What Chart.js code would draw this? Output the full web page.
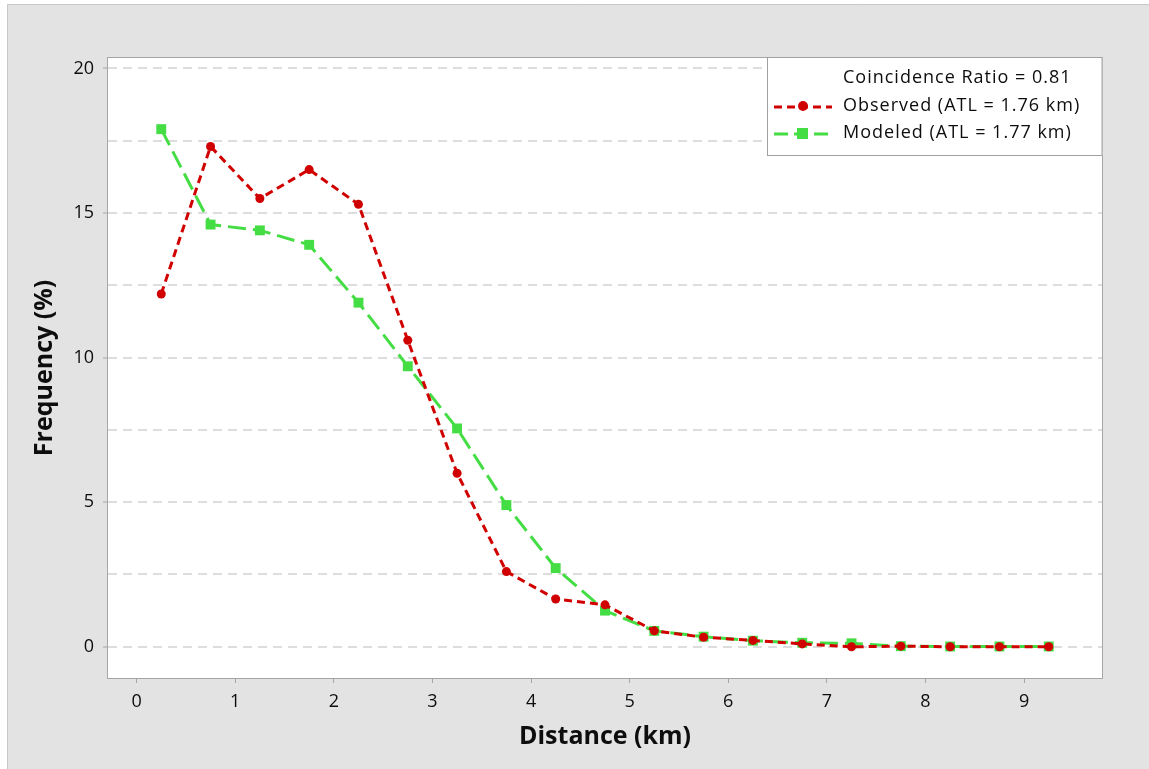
<!DOCTYPE html>
<html>
<head>
<meta charset="utf-8">
<script src="https://cdn.jsdelivr.net/npm/chart.js@4.4.1/dist/chart.umd.min.js"></script>
<style>
  html, body { margin: 0; padding: 0; background: #fff; overflow: hidden; }
  #wrap { position: relative; width: 1149px; height: 769px; }
  canvas { display: block; }
</style>
</head>
<body>
<div id="wrap"><canvas id="chartDist" width="1149" height="769"></canvas></div>
<script>
// Khoảng cách (km) – tâm của các lớp 0.5 km
const distances = [0.25, 0.75, 1.25, 1.75, 2.25, 2.75, 3.25, 3.75, 4.25, 4.75, 5.25, 5.75, 6.25, 6.75, 7.25, 7.75, 8.25, 8.75, 9.25];
const observed = [12.2, 17.3, 15.5, 16.5, 15.3, 10.6, 6.0, 2.6, 1.65, 1.45, 0.55, 0.33, 0.22, 0.1, 0.0, 0.02, 0.0, 0.0, 0.0];
const modeled = [17.9, 14.6, 14.4, 13.9, 11.9, 9.7, 7.55, 4.9, 2.72, 1.25, 0.55, 0.35, 0.21, 0.14, 0.12, 0.02, 0.01, 0.01, 0.01];
const xTicks = [0, 1, 2, 3, 4, 5, 6, 7, 8, 9];
const yTicks = [0, 2.5, 5, 7.5, 10, 12.5, 15, 17.5, 20];
const legendHeader = 'Coincidence Ratio = 0.81';
const seriesLabels = ['Observed (ATL = 1.76 km)', 'Modeled (ATL = 1.77 km)'];

const FONT = "'Open Sans', 'Noto Sans', sans-serif";
const RED = '#d00000';
const GREEN = '#44dd44';
const FRAME = '#e3e3e3';
const AXIS_LINE = '#a6a6a6';
const TEXT = '#0d0d0d';

// Nền xám + vùng vẽ trắng + khung
const framePlugin = {
    id: 'frame',
    beforeDraw(chart) {
        const { ctx, chartArea: a } = chart;
        ctx.save();
        ctx.fillStyle = '#ffffff';
        ctx.fillRect(0, 0, chart.width, chart.height);
        ctx.fillStyle = FRAME;
        ctx.fillRect(7, 4, chart.width - 7, chart.height - 4);
        ctx.strokeStyle = '#c8c8c8';
        ctx.lineWidth = 1;
        ctx.beginPath();
        ctx.moveTo(7.5, chart.height);
        ctx.lineTo(7.5, 4.5);
        ctx.lineTo(chart.width, 4.5);
        ctx.stroke();
        ctx.fillStyle = '#ffffff';
        ctx.fillRect(a.left, a.top, a.right - a.left, a.bottom - a.top);
        ctx.restore();
    },
    afterDraw(chart) {
        const { ctx, chartArea: a } = chart;
        ctx.save();
        ctx.strokeStyle = AXIS_LINE;
        ctx.lineWidth = 1;
        ctx.strokeRect(a.left - 0.5, a.top - 0.5, a.right - a.left + 1, a.bottom - a.top + 1);

        // Chú giải
        const bx = 767, by = a.top - 0.5, bw = a.right - bx + 0.5, bh = 98;
        ctx.fillStyle = '#ffffff';
        ctx.fillRect(bx, by, bw, bh);
        ctx.strokeStyle = '#a0a0a0';
        ctx.strokeRect(bx + 0.5, by, bw - 1, bh);
        ctx.fillStyle = TEXT;
        ctx.font = '500 18px ' + FONT;
        ctx.letterSpacing = '1px';
        ctx.textBaseline = 'middle';
        const tx = 843;
        ctx.fillText(legendHeader, tx, 78);
        const rows = [106, 133];
        chart.data.datasets.forEach((ds, i) => {
            const y = rows[i];
            ctx.save();
            ctx.strokeStyle = ds.borderColor;
            ctx.lineWidth = ds.borderWidth;
            ctx.setLineDash(i === 0 ? [8, 5] : [14, 6]);
            ctx.beginPath();
            ctx.moveTo(774, y + 1);
            ctx.lineTo(832, y + 1);
            ctx.stroke();
            ctx.setLineDash([]);
            ctx.fillStyle = ds.borderColor;
            if (i === 0) {
                ctx.beginPath();
                ctx.arc(803, y, 5, 0, Math.PI * 2);
                ctx.fill();
            } else {
                ctx.fillRect(797, y - 5, 11, 11);
            }
            ctx.restore();
            ctx.fillStyle = TEXT;
            ctx.fillText(ds.label, tx, y);
        });
        ctx.restore();
    }
};

const ctx = document.getElementById('chartDist');
new Chart(ctx, {
    type: 'line',
    data: {
        datasets: [
            {
                label: seriesLabels[0],
                data: distances.map((x, i) => ({ x, y: observed[i] })),
                borderColor: RED,
                backgroundColor: RED,
                borderWidth: 3,
                borderDash: [8, 5],
                pointStyle: 'circle',
                pointRadius: 4.5,
                pointBorderWidth: 0,
                tension: 0,
            },
            {
                label: seriesLabels[1],
                data: distances.map((x, i) => ({ x, y: modeled[i] })),
                borderColor: GREEN,
                backgroundColor: GREEN,
                borderWidth: 3,
                borderDash: [18, 7],
                pointStyle: 'rect',
                pointRadius: 7,
                pointBorderWidth: 0,
                tension: 0,
            }
        ]
    },
    options: {
        responsive: false,
        animation: false,
        devicePixelRatio: 1,
        layout: { padding: { left: 0, top: 58, right: 47, bottom: 0 } },
        plugins: {
            legend: { display: false },
            tooltip: { enabled: false }
        },
        scales: {
            x: {
                type: 'linear',
                min: -0.29,
                max: 9.79,
                afterBuildTicks: s => { s.ticks = xTicks.map(v => ({ value: v })); },
                afterFit: s => { s.height = 91; },
                border: { display: false },
                grid: {
                    display: true,
                    drawOnChartArea: false,
                    drawTicks: true,
                    tickLength: 5,
                    tickColor: AXIS_LINE,
                    lineWidth: 1
                },
                ticks: {
                    padding: 8,
                    color: TEXT,
                    font: { family: FONT, size: 18, weight: 500 },
                    maxRotation: 0
                },
                title: {
                    display: true,
                    text: 'Distance (km)',
                    color: TEXT,
                    font: { family: FONT, size: 25, weight: 'bold' },
                    padding: { top: 0, bottom: 17 }
                }
            },
            y: {
                type: 'linear',
                min: -1.08,
                max: 20.36,
                afterBuildTicks: s => { s.ticks = yTicks.map(v => ({ value: v })); },
                afterFit: s => { s.width = 108; },
                border: { display: false, dash: [9, 6] },
                grid: {
                    color: '#dddddd',
                    lineWidth: 2,
                    borderDash: [9, 6],
                    drawTicks: true,
                    tickLength: 5,
                    tickWidth: 1,
                    tickBorderDash: [],
                    tickColor: c => (c.tick && c.tick.value % 5 === 0) ? AXIS_LINE : 'rgba(0,0,0,0)'
                },
                ticks: {
                    padding: 9,
                    color: TEXT,
                    font: { family: FONT, size: 18, weight: 500 },
                    callback: v => (v % 5 === 0 ? String(v) : '')
                },
                title: {
                    display: true,
                    text: 'Frequency (%)',
                    color: TEXT,
                    font: { family: FONT, size: 25, weight: 'bold' },
                    padding: { top: 30, bottom: 0 }
                }
            }
        }
    },
    plugins: [framePlugin]
});
</script>
</body>
</html>
